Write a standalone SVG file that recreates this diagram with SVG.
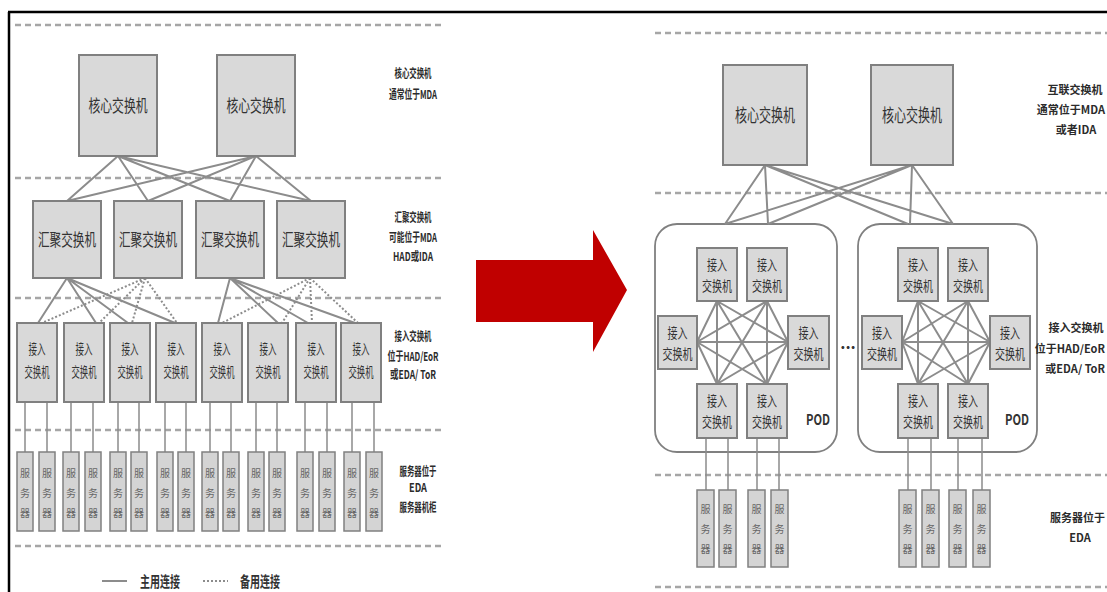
<svg xmlns="http://www.w3.org/2000/svg" width="1107" height="592" viewBox="0 0 1107 592">
<style>
.dash{stroke:#a6a6a6;stroke-width:2.5;stroke-dasharray:6,4;fill:none}
.box{fill:#d9d9d9;stroke:#808080;stroke-width:2}
.srv{fill:#d4d4d4;stroke:#808080;stroke-width:1.5}
.pod{fill:#fff;stroke:#808080;stroke-width:1.8}
.ln{stroke:#8c8c8c;stroke-width:2;fill:none}
.dot{stroke:#8c8c8c;stroke-width:2;stroke-dasharray:2,2;fill:none}
.thin{stroke:#8c8c8c;stroke-width:1.5;fill:none}
text{font-family:"Noto Sans CJK SC","Liberation Sans",sans-serif;fill:#333;text-anchor:middle}
.lab{font-size:12px;font-weight:bold;fill:#2b2b2b}
.rl{font-size:11px;font-weight:bold;fill:#2b2b2b}
.rle{font-size:11px;font-weight:bold;fill:#2b2b2b;text-anchor:end}
.big{font-size:17px}
.acc{font-size:14px}
.s{font-size:10px;fill:#666}
</style>
<defs>
<g id="srvtxt"><text class="s" y="477">服</text><text class="s" y="497">务</text><text class="s" y="517">器</text></g>
</defs>

<!-- frame -->
<line x1="8" y1="12" x2="1107" y2="12" stroke="#000" stroke-width="2.5"/>
<line x1="9" y1="12" x2="9" y2="592" stroke="#000" stroke-width="2.5"/>

<!-- dashed tier lines -->
<g id="tiers">
<line class="dash" x1="15" y1="25" x2="442" y2="25"/>
<line class="dash" x1="15" y1="178" x2="442" y2="178"/>
<line class="dash" x1="15" y1="298" x2="442" y2="298"/>
<line class="dash" x1="15" y1="430" x2="442" y2="430"/>
<line class="dash" x1="15" y1="546" x2="442" y2="546"/>
<line class="dash" x1="655" y1="33" x2="1107" y2="33"/>
<line class="dash" x1="655" y1="193" x2="1107" y2="193"/>
<line class="dash" x1="655" y1="475" x2="1107" y2="475"/>
<line class="dash" x1="655" y1="587" x2="1107" y2="587"/>
</g>

<!-- pods (background) -->
<g id="pod1"><rect class="pod" x="655" y="224" width="182" height="228" rx="22"/><text x="818" y="425" font-size="15" textLength="24" lengthAdjust="spacingAndGlyphs" font-weight="bold">POD</text></g>
<g id="pod2"><rect class="pod" x="858" y="224" width="179" height="228" rx="22"/><text x="1017" y="425" font-size="15" textLength="24" lengthAdjust="spacingAndGlyphs" font-weight="bold">POD</text></g>

<!-- connectors -->
<g id="connectors">
<path class="ln" d="M118 156L67 201M118 156L148 201M118 156L230 201M118 156L311 201M256 156L67 201M256 156L148 201M256 156L230 201M256 156L311 201"/>
<path class="ln" d="M67 278L38 323M67 278L96 323M67 278L128 323M67 278L175 323M230 278L218 323M230 278L278 323M230 278L308 323M230 278L355 323"/>
<path class="dot" d="M145 278L42 323M145 278L99 323M145 278L132 323M145 278L177 323M310 278L222 323M310 278L282 323M310 278L312 323M310 278L358 323"/>
<path class="thin" d="M25 402V452M47 402V452M71 402V452M93 402V452M118 402V452M139 402V452M165 402V452M186 402V452M210 402V452M231 402V452M256 402V452M277 402V452M305 402V452M327 402V452M352 402V452M374 402V452"/>
<line class="ln" x1="102" y1="581" x2="127" y2="581" stroke-width="3"/>
<line class="dot" x1="203" y1="581" x2="228" y2="581"/>
<path class="ln" d="M765 165L725 224M765 165L768 224M765 165L908 224M765 165L953 224M912 165L725 224M912 165L768 224M912 165L910 224M912 165L953 224"/>
<path class="ln" d="M717 301L717 384M767 301L767 384M717 301L767 384M767 301L717 384M697 342L717 301M697 342L767 301M697 342L717 384M697 342L767 384M697 342L788 342M788 342L717 301M788 342L767 301M788 342L717 384M788 342L767 384"/>
<path class="ln" d="M918 301L918 384M968 301L968 384M918 301L968 384M968 301L918 384M902 342L918 301M902 342L968 301M902 342L918 384M902 342L968 384M902 342L990 342M990 342L918 301M990 342L968 301M990 342L918 384M990 342L968 384"/>
<path class="thin" d="M706 438V490M728 438V490M757 438V490M779 438V490M908 438V490M931 438V490M958 438V490M982 438V490"/>
</g>

<!-- LEFT: core -->
<g id="l-core1"><rect class="box" x="79" y="55" width="78" height="101"/><text class="big" x="118" y="112" textLength="59" lengthAdjust="spacingAndGlyphs">核心交换机</text></g>
<g id="l-core2"><rect class="box" x="217" y="55" width="78" height="101"/><text class="big" x="256" y="112" textLength="59" lengthAdjust="spacingAndGlyphs">核心交换机</text></g>
<!-- LEFT: agg -->
<g id="l-agg1"><rect class="box" x="33" y="201" width="68" height="77"/><text class="big" x="67" y="246" textLength="58" lengthAdjust="spacingAndGlyphs">汇聚交换机</text></g>
<g id="l-agg2"><rect class="box" x="114" y="201" width="68" height="77"/><text class="big" x="148" y="246" textLength="58" lengthAdjust="spacingAndGlyphs">汇聚交换机</text></g>
<g id="l-agg3"><rect class="box" x="196" y="201" width="68" height="77"/><text class="big" x="230" y="246" textLength="58" lengthAdjust="spacingAndGlyphs">汇聚交换机</text></g>
<g id="l-agg4"><rect class="box" x="277" y="201" width="68" height="77"/><text class="big" x="311" y="246" textLength="58" lengthAdjust="spacingAndGlyphs">汇聚交换机</text></g>
<!-- LEFT: access -->
<g id="l-acc1"><rect class="box" x="17" y="323" width="40" height="79"/><text class="acc" x="37" y="354" textLength="17" lengthAdjust="spacingAndGlyphs">接入</text><text class="acc" x="37" y="377" textLength="25" lengthAdjust="spacingAndGlyphs">交换机</text></g>
<g id="l-acc2"><rect class="box" x="64" y="323" width="40" height="79"/><text class="acc" x="84" y="354" textLength="17" lengthAdjust="spacingAndGlyphs">接入</text><text class="acc" x="84" y="377" textLength="25" lengthAdjust="spacingAndGlyphs">交换机</text></g>
<g id="l-acc3"><rect class="box" x="110" y="323" width="40" height="79"/><text class="acc" x="130" y="354" textLength="17" lengthAdjust="spacingAndGlyphs">接入</text><text class="acc" x="130" y="377" textLength="25" lengthAdjust="spacingAndGlyphs">交换机</text></g>
<g id="l-acc4"><rect class="box" x="156" y="323" width="40" height="79"/><text class="acc" x="176" y="354" textLength="17" lengthAdjust="spacingAndGlyphs">接入</text><text class="acc" x="176" y="377" textLength="25" lengthAdjust="spacingAndGlyphs">交换机</text></g>
<g id="l-acc5"><rect class="box" x="202" y="323" width="40" height="79"/><text class="acc" x="222" y="354" textLength="17" lengthAdjust="spacingAndGlyphs">接入</text><text class="acc" x="222" y="377" textLength="25" lengthAdjust="spacingAndGlyphs">交换机</text></g>
<g id="l-acc6"><rect class="box" x="248" y="323" width="40" height="79"/><text class="acc" x="268" y="354" textLength="17" lengthAdjust="spacingAndGlyphs">接入</text><text class="acc" x="268" y="377" textLength="25" lengthAdjust="spacingAndGlyphs">交换机</text></g>
<g id="l-acc7"><rect class="box" x="296" y="323" width="40" height="79"/><text class="acc" x="316" y="354" textLength="17" lengthAdjust="spacingAndGlyphs">接入</text><text class="acc" x="316" y="377" textLength="25" lengthAdjust="spacingAndGlyphs">交换机</text></g>
<g id="l-acc8"><rect class="box" x="341" y="323" width="40" height="79"/><text class="acc" x="361" y="354" textLength="17" lengthAdjust="spacingAndGlyphs">接入</text><text class="acc" x="361" y="377" textLength="25" lengthAdjust="spacingAndGlyphs">交换机</text></g>
<!-- LEFT: servers -->
<g id="l-servers">
<g id="ls1"><rect class="srv" x="17" y="452" width="16" height="79"/><use href="#srvtxt" x="25"/></g>
<g id="ls2"><rect class="srv" x="39" y="452" width="16" height="79"/><use href="#srvtxt" x="47"/></g>
<g id="ls3"><rect class="srv" x="63" y="452" width="16" height="79"/><use href="#srvtxt" x="71"/></g>
<g id="ls4"><rect class="srv" x="85" y="452" width="16" height="79"/><use href="#srvtxt" x="93"/></g>
<g id="ls5"><rect class="srv" x="110" y="452" width="16" height="79"/><use href="#srvtxt" x="118"/></g>
<g id="ls6"><rect class="srv" x="131" y="452" width="16" height="79"/><use href="#srvtxt" x="139"/></g>
<g id="ls7"><rect class="srv" x="157" y="452" width="16" height="79"/><use href="#srvtxt" x="165"/></g>
<g id="ls8"><rect class="srv" x="178" y="452" width="16" height="79"/><use href="#srvtxt" x="186"/></g>
<g id="ls9"><rect class="srv" x="202" y="452" width="16" height="79"/><use href="#srvtxt" x="210"/></g>
<g id="ls10"><rect class="srv" x="223" y="452" width="16" height="79"/><use href="#srvtxt" x="231"/></g>
<g id="ls11"><rect class="srv" x="248" y="452" width="16" height="79"/><use href="#srvtxt" x="256"/></g>
<g id="ls12"><rect class="srv" x="269" y="452" width="16" height="79"/><use href="#srvtxt" x="277"/></g>
<g id="ls13"><rect class="srv" x="297" y="452" width="16" height="79"/><use href="#srvtxt" x="305"/></g>
<g id="ls14"><rect class="srv" x="319" y="452" width="16" height="79"/><use href="#srvtxt" x="327"/></g>
<g id="ls15"><rect class="srv" x="344" y="452" width="16" height="79"/><use href="#srvtxt" x="352"/></g>
<g id="ls16"><rect class="srv" x="366" y="452" width="16" height="79"/><use href="#srvtxt" x="374"/></g>
</g>
<!-- LEFT labels -->
<g id="l-labels">
<text class="lab" x="413" y="78" textLength="37" lengthAdjust="spacingAndGlyphs">核心交换机</text>
<text class="lab" x="413" y="99" textLength="48" lengthAdjust="spacingAndGlyphs">通常位于MDA</text>
<text class="lab" x="413" y="222" textLength="37" lengthAdjust="spacingAndGlyphs">汇聚交换机</text>
<text class="lab" x="413" y="242" textLength="48" lengthAdjust="spacingAndGlyphs">可能位于MDA</text>
<text class="lab" x="413" y="261" textLength="40" lengthAdjust="spacingAndGlyphs">HAD或IDA</text>
<text class="lab" x="413" y="341" textLength="37" lengthAdjust="spacingAndGlyphs">接入交换机</text>
<text class="lab" x="413" y="361" textLength="51" lengthAdjust="spacingAndGlyphs">位于HAD/EoR</text>
<text class="lab" x="413" y="379" textLength="46" lengthAdjust="spacingAndGlyphs">或EDA/ ToR</text>
<text class="lab" x="418" y="476" textLength="37" lengthAdjust="spacingAndGlyphs">服务器位于</text>
<text class="lab" x="418" y="492" textLength="18" lengthAdjust="spacingAndGlyphs">EDA</text>
<text class="lab" x="418" y="512" textLength="37" lengthAdjust="spacingAndGlyphs">服务器机柜</text>
</g>
<g id="legend">
<text x="160" y="587" font-size="15" font-weight="bold" textLength="40" lengthAdjust="spacingAndGlyphs">主用连接</text>
<text x="260" y="587" font-size="15" font-weight="bold" textLength="40" lengthAdjust="spacingAndGlyphs">备用连接</text>
</g>

<g id="arrow"><polygon points="476,260 593,260 593,230 627,290 593,352 593,322 476,322" fill="#c00000"/></g>

<!-- RIGHT: core -->
<g id="r-core1"><rect class="box" x="723" y="65" width="84" height="100"/><text x="765" y="122" font-size="18" textLength="60" lengthAdjust="spacingAndGlyphs">核心交换机</text></g>
<g id="r-core2"><rect class="box" x="871" y="65" width="82" height="100"/><text x="912" y="122" font-size="18" textLength="60" lengthAdjust="spacingAndGlyphs">核心交换机</text></g>

<!-- RIGHT: pod1 switches -->
<g id="p1-tl"><rect class="box" x="697" y="248" width="40" height="53"/><text class="acc" x="717" y="270" textLength="20" lengthAdjust="spacingAndGlyphs">接入</text><text class="acc" x="717" y="291" textLength="30" lengthAdjust="spacingAndGlyphs">交换机</text></g>
<g id="p1-tr"><rect class="box" x="747" y="248" width="40" height="53"/><text class="acc" x="767" y="270" textLength="20" lengthAdjust="spacingAndGlyphs">接入</text><text class="acc" x="767" y="291" textLength="30" lengthAdjust="spacingAndGlyphs">交换机</text></g>
<g id="p1-ml"><rect class="box" x="658" y="316" width="39" height="53"/><text class="acc" x="677.5" y="338" textLength="20" lengthAdjust="spacingAndGlyphs">接入</text><text class="acc" x="677.5" y="359" textLength="30" lengthAdjust="spacingAndGlyphs">交换机</text></g>
<g id="p1-mr"><rect class="box" x="788" y="316" width="41" height="53"/><text class="acc" x="808.5" y="338" textLength="20" lengthAdjust="spacingAndGlyphs">接入</text><text class="acc" x="808.5" y="359" textLength="30" lengthAdjust="spacingAndGlyphs">交换机</text></g>
<g id="p1-bl"><rect class="box" x="697" y="384" width="40" height="54"/><text class="acc" x="717" y="406" textLength="20" lengthAdjust="spacingAndGlyphs">接入</text><text class="acc" x="717" y="427" textLength="30" lengthAdjust="spacingAndGlyphs">交换机</text></g>
<g id="p1-br"><rect class="box" x="747" y="384" width="40" height="54"/><text class="acc" x="767" y="406" textLength="20" lengthAdjust="spacingAndGlyphs">接入</text><text class="acc" x="767" y="427" textLength="30" lengthAdjust="spacingAndGlyphs">交换机</text></g>

<!-- RIGHT: pod2 switches -->
<g id="p2-tl"><rect class="box" x="898" y="248" width="40" height="53"/><text class="acc" x="918" y="270" textLength="20" lengthAdjust="spacingAndGlyphs">接入</text><text class="acc" x="918" y="291" textLength="30" lengthAdjust="spacingAndGlyphs">交换机</text></g>
<g id="p2-tr"><rect class="box" x="948" y="248" width="40" height="53"/><text class="acc" x="968" y="270" textLength="20" lengthAdjust="spacingAndGlyphs">接入</text><text class="acc" x="968" y="291" textLength="30" lengthAdjust="spacingAndGlyphs">交换机</text></g>
<g id="p2-ml"><rect class="box" x="862" y="316" width="40" height="53"/><text class="acc" x="882" y="338" textLength="20" lengthAdjust="spacingAndGlyphs">接入</text><text class="acc" x="882" y="359" textLength="30" lengthAdjust="spacingAndGlyphs">交换机</text></g>
<g id="p2-mr"><rect class="box" x="990" y="316" width="40" height="53"/><text class="acc" x="1010" y="338" textLength="20" lengthAdjust="spacingAndGlyphs">接入</text><text class="acc" x="1010" y="359" textLength="30" lengthAdjust="spacingAndGlyphs">交换机</text></g>
<g id="p2-bl"><rect class="box" x="898" y="384" width="40" height="54"/><text class="acc" x="918" y="406" textLength="20" lengthAdjust="spacingAndGlyphs">接入</text><text class="acc" x="918" y="427" textLength="30" lengthAdjust="spacingAndGlyphs">交换机</text></g>
<g id="p2-br"><rect class="box" x="948" y="384" width="40" height="54"/><text class="acc" x="968" y="406" textLength="20" lengthAdjust="spacingAndGlyphs">接入</text><text class="acc" x="968" y="427" textLength="30" lengthAdjust="spacingAndGlyphs">交换机</text></g>

<g id="ellipsis"><text x="848" y="349" font-size="16" font-weight="bold">...</text></g>

<!-- RIGHT: servers -->
<g id="r-servers">
<g id="rs1"><rect class="srv" x="697" y="490" width="17" height="77"/><use href="#srvtxt" x="705.5" y="36"/></g>
<g id="rs2"><rect class="srv" x="719" y="490" width="17" height="77"/><use href="#srvtxt" x="727.5" y="36"/></g>
<g id="rs3"><rect class="srv" x="748" y="490" width="17" height="77"/><use href="#srvtxt" x="756.5" y="36"/></g>
<g id="rs4"><rect class="srv" x="771" y="490" width="17" height="77"/><use href="#srvtxt" x="779.5" y="36"/></g>
<g id="rs5"><rect class="srv" x="899" y="490" width="17" height="77"/><use href="#srvtxt" x="907.5" y="36"/></g>
<g id="rs6"><rect class="srv" x="922" y="490" width="17" height="77"/><use href="#srvtxt" x="930.5" y="36"/></g>
<g id="rs7"><rect class="srv" x="949" y="490" width="17" height="77"/><use href="#srvtxt" x="957.5" y="36"/></g>
<g id="rs8"><rect class="srv" x="973" y="490" width="17" height="77"/><use href="#srvtxt" x="981.5" y="36"/></g>
</g>

<!-- RIGHT labels -->
<g id="r-labels">
<text class="rl" x="1075" y="94">互联交换机</text>
<text class="rle" x="1105" y="114">通常位于MDA</text>
<text class="rl" x="1076" y="134">或者IDA</text>
<text class="rl" x="1076" y="332">接入交换机</text>
<text class="rle" x="1105" y="353">位于HAD/EoR</text>
<text class="rle" x="1105" y="373">或EDA/ ToR</text>
<text class="rle" x="1105" y="522">服务器位于</text>
<text class="rl" x="1080" y="542">EDA</text>
</g>
</svg>
